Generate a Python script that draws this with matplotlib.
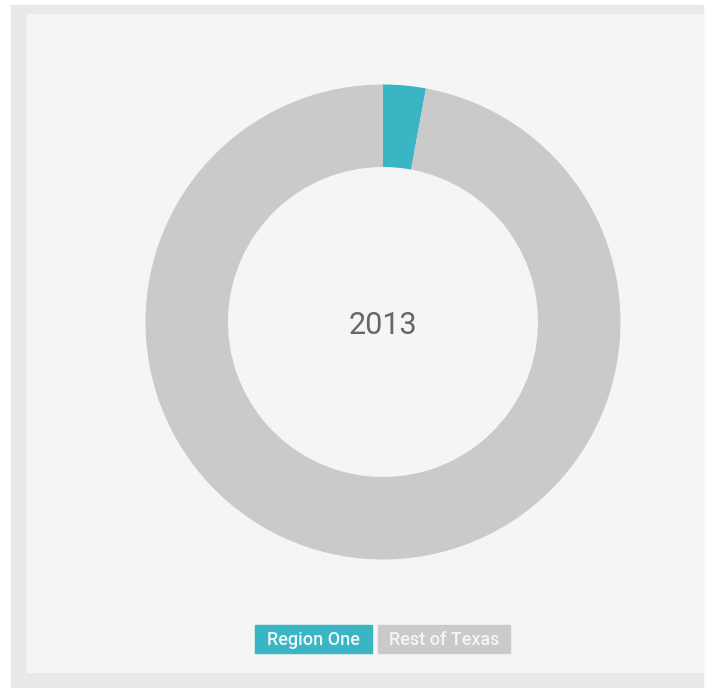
import matplotlib.pyplot as plt
from matplotlib.patches import Rectangle

# data
labels = ["Region One", "Rest of Texas"]
shares = [2.9, 97.1]
colors = ["#3ab5c3", "#cacaca"]
year = "2013"

W, H = 709, 688
fig = plt.figure(figsize=(W / 100, H / 100), dpi=100)
fig.patch.set_facecolor("white")
ax = fig.add_axes([0, 0, 1, 1])

# page frame + panel (frame open on the right side)
ax.add_patch(Rectangle((11, 5), 692, H - 5, color="#e9e9e9", zorder=0))
ax.add_patch(Rectangle((27, 14), 676, 658, color="#f5f5f5", zorder=1))

# donut (y axis is inverted, so clockwise on screen = counterclock in data)
ax.pie(shares, colors=colors, center=(383, 322), radius=237.5,
       startangle=-90, counterclock=True,
       wedgeprops=dict(width=82.5, linewidth=0), frame=True)
ax.set_xlim(0, W)
ax.set_ylim(H, 0)
ax.set_aspect("equal")
ax.axis("off")

fnt = ["Roboto", "DejaVu Sans"]
ax.text(383, 325, year, ha="center", va="center", fontsize=22,
        color="#666666", family=fnt, zorder=5)

# legend boxes
boxes = [(255, 117), (378, 132)]
for (x0, w), lab, c in zip(boxes, labels, colors):
    ax.add_patch(Rectangle((x0, 625), w, 28, color=c, zorder=4))
    ax.text(x0 + w / 2, 640, lab, ha="center", va="center", fontsize=13,
            fontweight="medium", color="#eef8f9", family=fnt, zorder=5)

fig.savefig("out.png", dpi=100)
